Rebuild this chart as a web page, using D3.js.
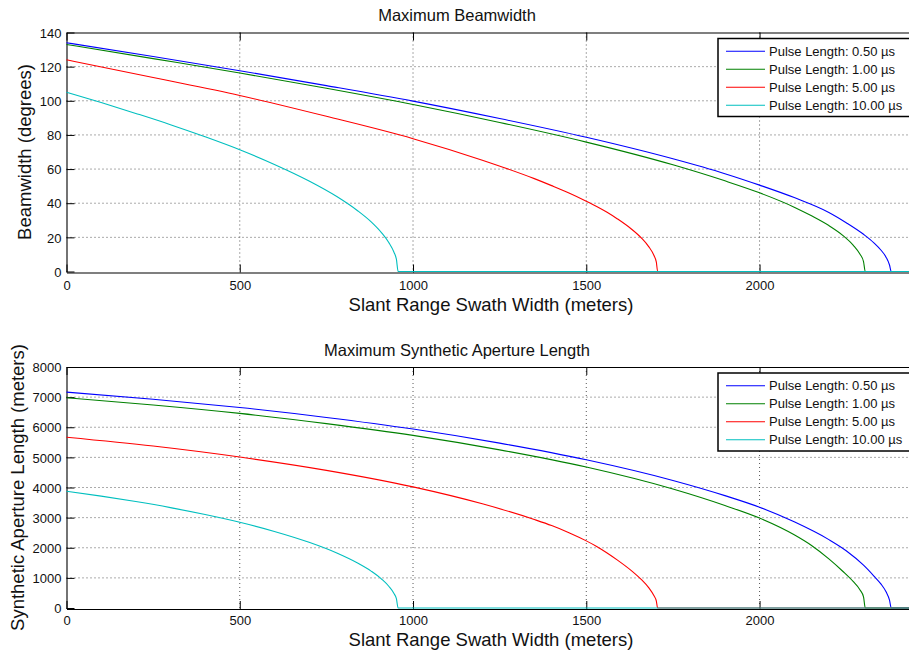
<!DOCTYPE html>
<html>
<head>
<meta charset="utf-8">
<script src="https://cdn.jsdelivr.net/npm/d3@7"></script>
<style>
  html, body { margin: 0; padding: 0; background: #fff; }
  svg { display: block; font-family: "Liberation Sans", Arial, Helvetica, sans-serif; }
</style>
</head>
<body>
<svg id="chart" width="909" height="652"></svg>
<script>
// ---- data -------------------------------------------------------------
const pulseLabels = ["0.50", "1.00", "5.00", "10.00"];
const xTicks = [0, 500, 1000, 1500, 2000];
const beamTicks = [0, 20, 40, 60, 80, 100, 120, 140];
const apertureTicks = [0, 1000, 2000, 3000, 4000, 5000, 6000, 7000, 8000];

// slant range swath width samples (m) for each pulse length
const swath050 = [0, 250, 500, 750, 1000, 1250, 1500, 1750, 1900, 2000, 2100, 2200, 2250, 2300, 2330, 2350, 2365, 2375, 2380, 2450];
const swath100 = [0, 250, 500, 750, 1000, 1250, 1500, 1750, 1900, 2000, 2100, 2150, 2200, 2240, 2270, 2290, 2300, 2305, 2450];
const swath500 = [0, 250, 500, 750, 1000, 1200, 1350, 1400, 1450, 1500, 1530, 1560, 1590, 1630, 1660, 1680, 1695, 1702, 1706, 2450];
const swath1000 = [0, 100, 200, 300, 400, 500, 600, 700, 780, 840, 880, 910, 930, 945, 952, 957, 2450];

// maximum beamwidth (degrees)
const beam050 = [134, 125.9, 117.6, 108.9, 99.8, 89.6, 78.6, 66, 57.3, 50.6, 43.3, 34.6, 28.6, 21.8, 16.8, 12.6, 8.4, 3.8, 0, 0];
const beam100 = [133, 124.7, 116.3, 107.3, 97.8, 87.3, 75.8, 62.5, 53.1, 46.1, 37.7, 32.6, 26.9, 21.2, 15.5, 10.1, 5.8, 0, 0];
const beam500 = [124, 113.6, 103.1, 90.9, 77.8, 65.2, 54.4, 50.3, 46, 41.2, 38.1, 34.7, 30.8, 24.9, 19.4, 14.6, 9.5, 5.6, 0, 0];
const beam1000 = [105, 99, 92.6, 86, 78.9, 71.3, 62.7, 53, 43.9, 35.6, 28.9, 22.5, 17, 11.3, 7.2, 0, 0];

// maximum synthetic aperture length (m)
const aperture050 = [7165, 6932, 6654, 6325, 5940, 5473, 4920, 4233, 3730, 3345, 2860, 2270, 1900, 1420, 1060, 800, 540, 260, 0, 0];
const aperture100 = [6977, 6740, 6460, 6120, 5730, 5250, 4680, 3950, 3403, 2985, 2430, 2075, 1630, 1220, 880, 600, 370, 0, 0];
const aperture500 = [5670, 5375, 5010, 4569, 4020, 3458, 2937, 2735, 2498, 2228, 2043, 1827, 1590, 1241, 930, 677, 413, 236, 0, 0];
const aperture1000 = [3876, 3714, 3533, 3331, 3103, 2845, 2541, 2180, 1825, 1492, 1216, 953, 722, 483, 309, 0, 0];

const seriesColors = ["#0000ff", "#008000", "#ff0000", "#00bfbf"];

// ---- drawing ----------------------------------------------------------
const svg = d3.select("#chart");
const xMax = 2450;
const left = 66.5, right = 915.5;

function zip(xs, ys) { return xs.map((x, i) => ({ x, y: ys[i] })); }

function drawPanel(cfg) {
  const x = d3.scaleLinear().domain([0, xMax]).range([left, right]);
  const y = d3.scaleLinear().domain(cfg.yDomain).range([cfg.bottom, cfg.top]);
  const g = svg.append("g");

  // dotted grid
  const grid = g.append("g").attr("stroke", "#444").attr("stroke-width", 0.9)
    .attr("stroke-dasharray", "1,3");
  xTicks.filter(t => t > 0).forEach(t => {
    grid.append("line").attr("x1", x(t)).attr("x2", x(t))
      .attr("y1", cfg.top).attr("y2", cfg.bottom);
  });
  cfg.yTicks.filter(t => t > cfg.yDomain[0] && t < cfg.yDomain[1]).forEach(t => {
    grid.append("line").attr("x1", left).attr("x2", right)
      .attr("y1", y(t)).attr("y2", y(t));
  });

  // axis box with inward ticks
  const axisG = g.append("g");
  const bottomAxis = d3.axisBottom(x).tickValues(xTicks).tickSize(-8).tickSizeOuter(0).tickFormat(d3.format("d"));
  const topAxis = d3.axisTop(x).tickValues(xTicks).tickSize(-8).tickSizeOuter(0).tickFormat("");
  const leftAxis = d3.axisLeft(y).tickValues(cfg.yTicks).tickSize(-8).tickSizeOuter(0).tickFormat(d3.format("d"));

  const gb = axisG.append("g").attr("transform", `translate(0,${cfg.bottom + 1})`).call(bottomAxis);
  const gt = axisG.append("g").attr("transform", `translate(0,${cfg.top})`).call(topAxis);
  const gl = axisG.append("g").attr("transform", `translate(${left},0)`).call(leftAxis);
  [gb, gt, gl].forEach(a => {
    a.select(".domain").attr("stroke", "#000").attr("stroke-width", 1.1);
    a.selectAll(".tick line").attr("stroke", "#000").attr("stroke-width", 1);
    a.selectAll(".tick text").attr("fill", "#111").attr("font-size", 13)
      .attr("font-family", "'Liberation Sans', Arial, sans-serif");
  });
  gb.selectAll(".tick text").attr("y", 0).attr("dy", 0)
    .attr("transform", `translate(0,${cfg.tickBase - cfg.bottom - 1})`);
  gl.selectAll(".tick text").attr("x", -5).attr("dy", "0.36em");

  // curves
  const line = d3.line().x(d => x(d.x)).y(d => y(d.y)).curve(d3.curveMonotoneX);
  cfg.series.forEach((s, i) => {
    g.append("path").datum(zip(s.xs, s.ys))
      .attr("fill", "none").attr("stroke", seriesColors[i]).attr("stroke-width", 1.1)
      .attr("d", line);
  });

  // title and labels
  g.append("text").attr("x", 457).attr("y", cfg.titleBase).attr("text-anchor", "middle")
    .attr("font-size", 16.5).attr("fill", "#111").text(cfg.title);
  g.append("text").attr("x", 491).attr("y", cfg.xLabelBase).attr("text-anchor", "middle")
    .attr("font-size", 18.5).attr("fill", "#111").text("Slant Range Swath Width (meters)");
  g.append("text").attr("transform", `translate(${cfg.yLabelX},${(cfg.top + cfg.bottom) / 2}) rotate(-90)`)
    .attr("text-anchor", "middle").attr("font-size", 18.5).attr("fill", "#111").text(cfg.yLabel);

  // legend
  const lg = g.append("g").attr("transform", `translate(718,${cfg.top + 6})`);
  lg.append("rect").attr("x", 0).attr("y", 0).attr("width", 210).attr("height", 78)
    .attr("fill", "#fff").attr("stroke", "#000").attr("stroke-width", 1.5);
  pulseLabels.forEach((p, i) => {
    const yy = 12.7 + 18 * i;
    lg.append("line").attr("x1", 8).attr("x2", 47).attr("y1", yy).attr("y2", yy)
      .attr("stroke", seriesColors[i]).attr("stroke-width", 1.1);
    lg.append("text").attr("x", 51).attr("y", yy).attr("dy", "0.36em")
      .attr("font-size", 13).attr("fill", "#111")
      .text(`Pulse Length: ${p} \u00b5s`);
  });
}

drawPanel({
  top: 32.5, bottom: 271.5, yDomain: [0, 140], yTicks: beamTicks,
  tickBase: 290, titleBase: 21, xLabelBase: 310.5, yLabelX: 30.5,
  title: "Maximum Beamwidth", yLabel: "Beamwidth (degrees)",
  series: [
    { xs: swath050, ys: beam050 },
    { xs: swath100, ys: beam100 },
    { xs: swath500, ys: beam500 },
    { xs: swath1000, ys: beam1000 }
  ]
});

drawPanel({
  top: 367, bottom: 608, yDomain: [0, 8000], yTicks: apertureTicks,
  tickBase: 625, titleBase: 355.5, xLabelBase: 645.5, yLabelX: 23.5,
  title: "Maximum Synthetic Aperture Length", yLabel: "Synthetic Aperture Length (meters)",
  series: [
    { xs: swath050, ys: aperture050 },
    { xs: swath100, ys: aperture100 },
    { xs: swath500, ys: aperture500 },
    { xs: swath1000, ys: aperture1000 }
  ]
});
</script>
</body>
</html>
